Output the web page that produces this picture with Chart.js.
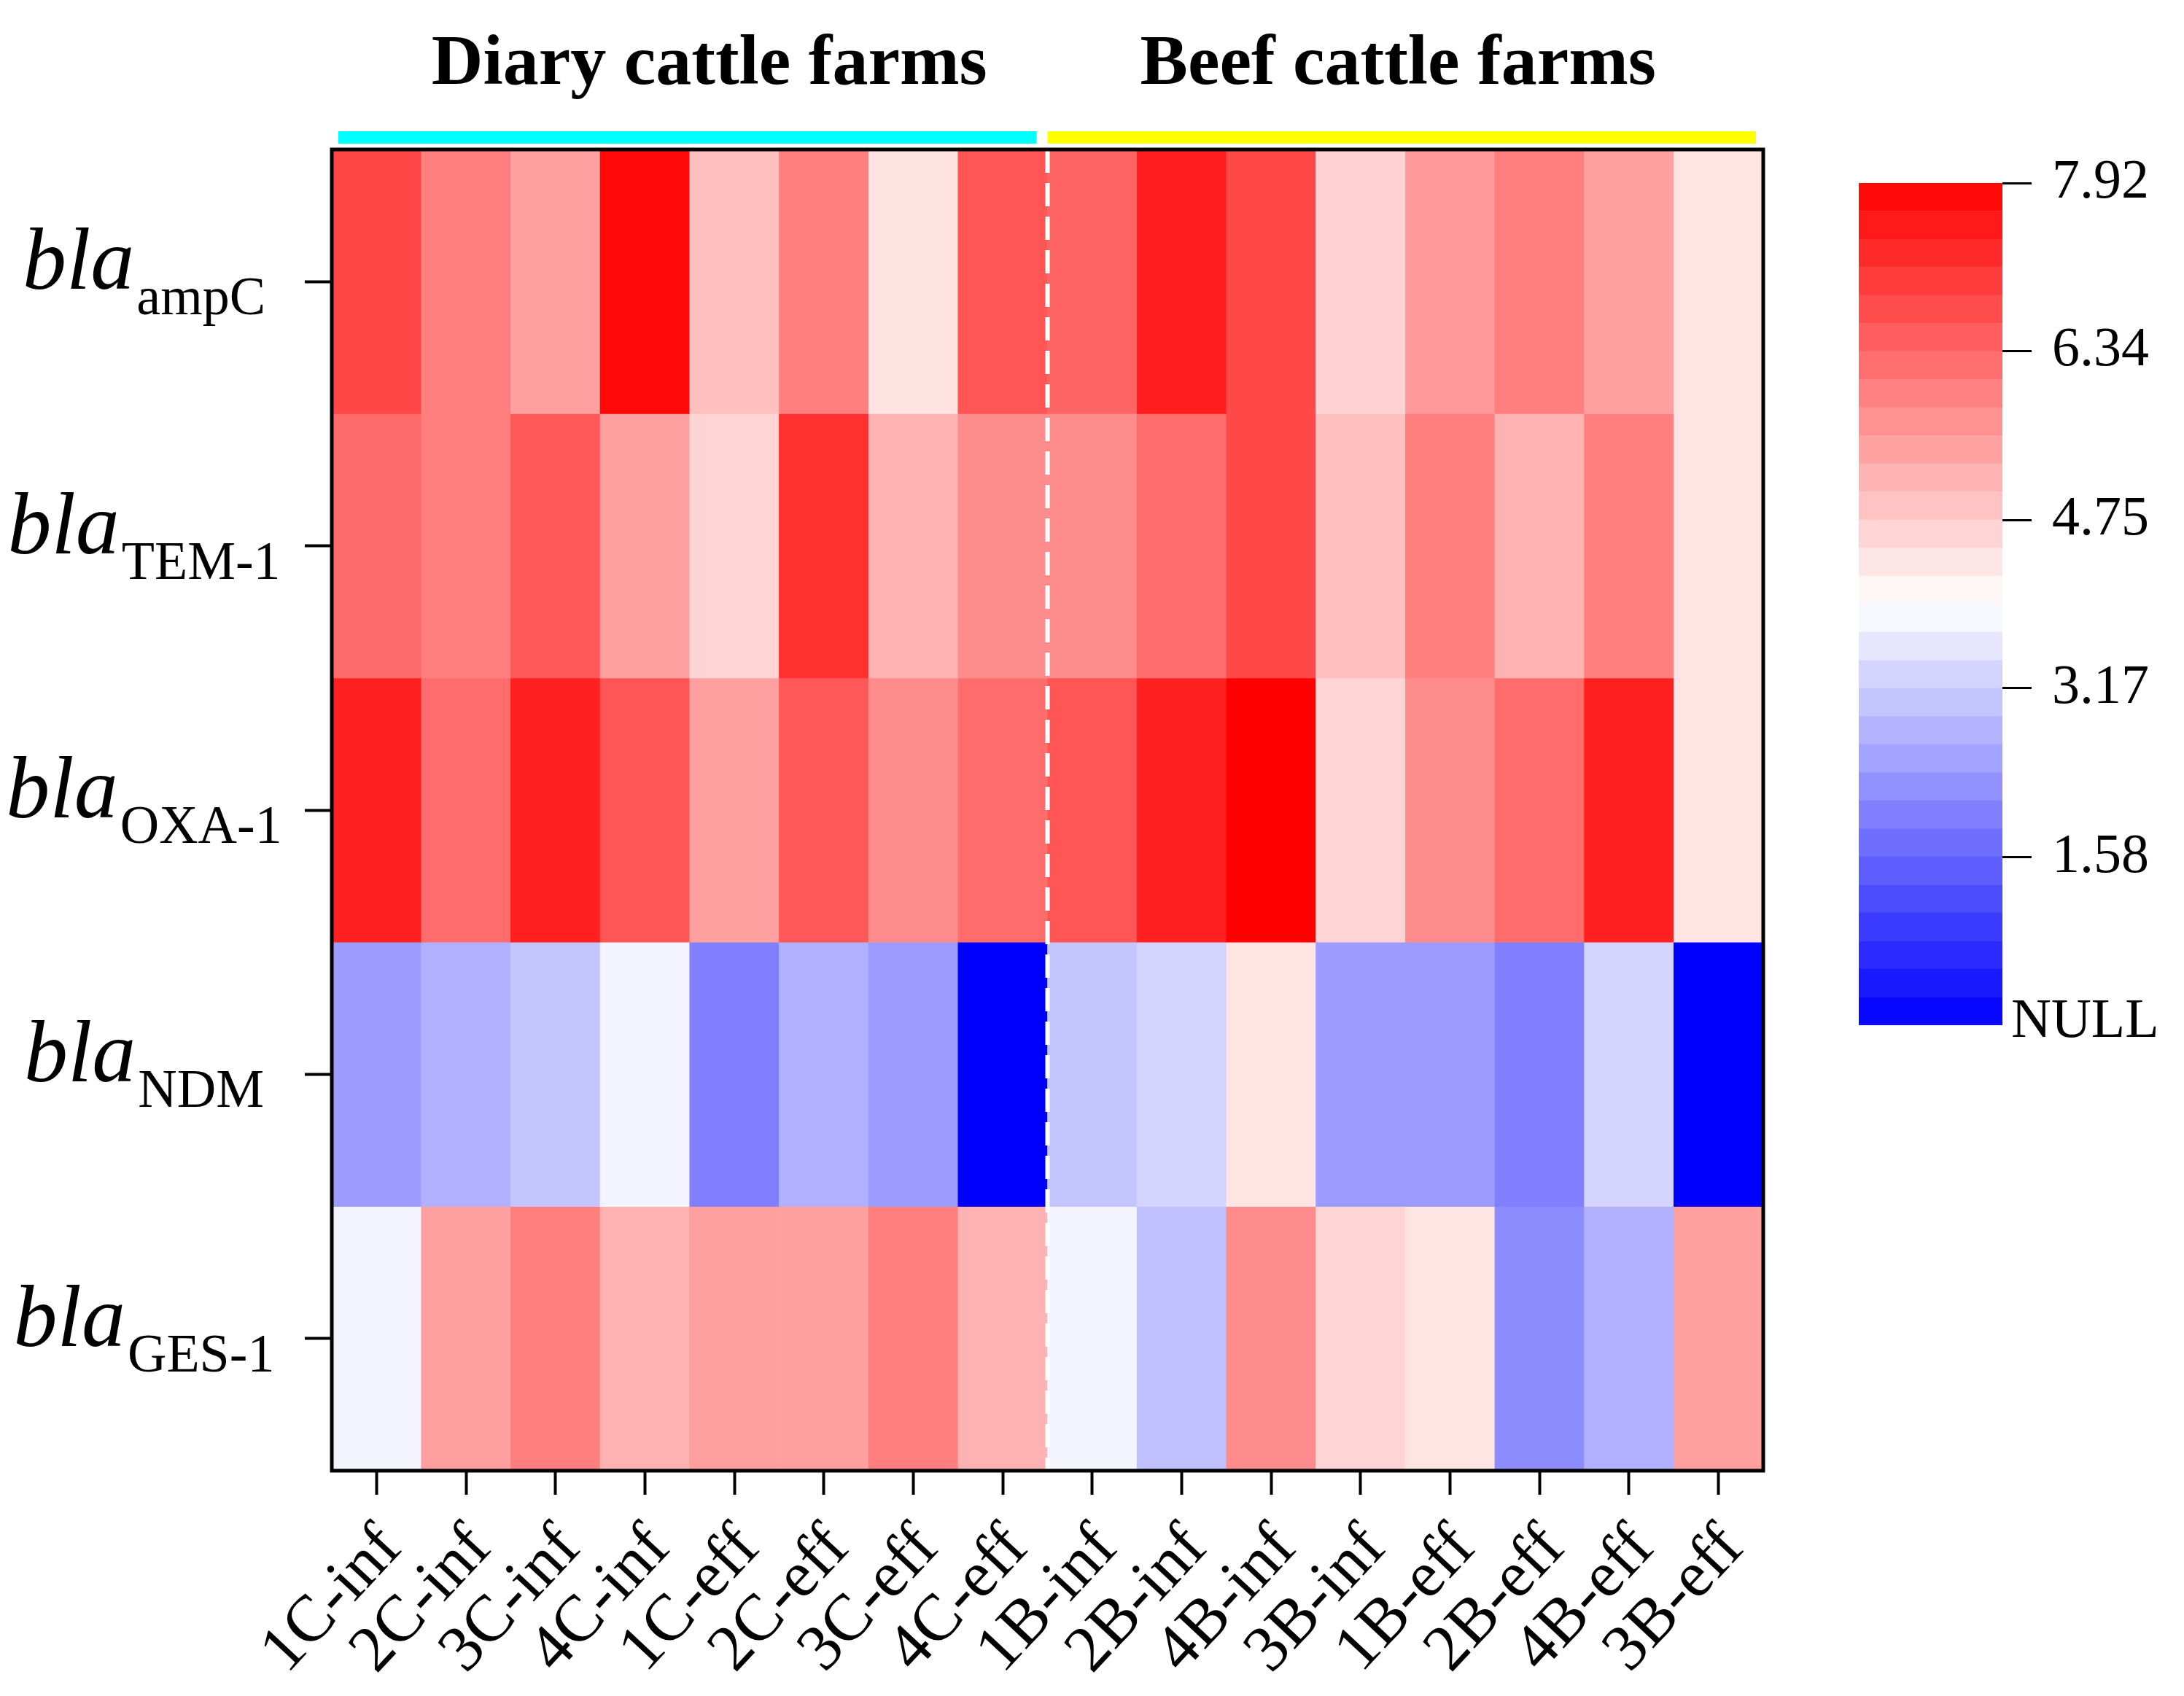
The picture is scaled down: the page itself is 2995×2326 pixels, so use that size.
<!DOCTYPE html>
<html>
<head>
<meta charset="utf-8">
<script src="https://cdn.jsdelivr.net/npm/chart.js@4.4.1/dist/chart.umd.min.js"></script>
<style>
  html, body { margin: 0; padding: 0; background: #fff; }
  #wrap { position: relative; width: 2995px; height: 2326px; }
  #wrap canvas { position: absolute; left: 0; top: 0; }
</style>
</head>
<body>
<div id="wrap">
  <canvas id="heat" width="2995" height="2326"></canvas>
  <canvas id="scale" width="2995" height="2326"></canvas>
</div>
<script>
const samples = ['1C-inf', '2C-inf', '3C-inf', '4C-inf', '1C-eff', '2C-eff', '3C-eff', '4C-eff',
                 '1B-inf', '2B-inf', '4B-inf', '3B-inf', '1B-eff', '2B-eff', '4B-eff', '3B-eff'];
const genes = ['ampC', 'TEM-1', 'OXA-1', 'NDM', 'GES-1'];
const groupNames = ['Diary cattle farms', 'Beef cattle farms'];
const groupSizes = [8, 8];

// log copies per sample (null = not detected)
const ampC = [6.83, 5.94, 5.43, 7.80, 4.94, 5.94, 4.41, 6.60, 6.37, 7.45, 6.80, 4.66, 5.53, 5.94, 5.43, 4.38];
const tem1 = [6.27, 5.94, 6.55, 5.43, 4.63, 7.17, 5.16, 5.75, 5.75, 6.24, 6.80, 4.94, 5.94, 5.16, 5.94, 4.38];
const oxa1 = [7.42, 6.24, 7.42, 6.60, 5.43, 6.55, 5.75, 6.24, 6.60, 7.42, 7.92, 4.63, 5.75, 6.24, 7.42, 4.38];
const ndm  = [2.42, 2.73, 3.05, 3.79, 1.98, 2.73, 2.42, null, 3.05, 3.29, 4.38, 2.42, 2.42, 1.98, 3.29, null];
const ges1 = [3.79, 5.43, 5.94, 5.16, 5.43, 5.43, 5.94, 5.16, 3.79, 2.98, 5.75, 4.63, 4.38, 2.18, 2.73, 5.43];

const cbMax = 7.92;
const cbSteps = 30;
const cbTicks = [1.58, 3.17, 4.75, 6.34, 7.92];
const nullLabel = 'NULL';

const groupColors = ['#00ffff', '#ffff00'];
const SERIF = '"Liberation Serif", "Times New Roman", serif';

function ramp(v) {
    if (v === null) return 'rgb(0,0,255)';
    const mid = cbMax / 2;
    if (v >= mid) {
        const s = Math.min(1, (v - mid) / mid);
        const g = Math.round(255 * (1 - s));
        return `rgb(255,${g},${g})`;
    }
    const s = Math.min(1, (mid - v) / mid);
    const r = Math.round(255 * (1 - s));
    return `rgb(${r},${r},255)`;
}

const rows = [ampC, tem1, oxa1, ndm, ges1];

const decor = {
    id: 'decor',
    afterDatasetsDraw(chart) {
        const { ctx, chartArea: a, scales: { x, y } } = chart;
        const sep = (x.getPixelForValue(groupSizes[0] - 1) + x.getPixelForValue(groupSizes[0])) / 2;
        ctx.save();
        // white dashed separator between the two farm groups
        ctx.strokeStyle = '#fff';
        ctx.lineWidth = 6;
        ctx.setLineDash([32, 14]);
        ctx.beginPath();
        ctx.moveTo(sep, a.top);
        ctx.lineTo(sep, a.bottom);
        ctx.stroke();
        ctx.setLineDash([]);
        // frame
        ctx.strokeStyle = '#000';
        ctx.lineWidth = 5;
        ctx.strokeRect(a.left, a.top, a.width, a.height);

        // group bars and titles
        const spans = [[a.left + 9, sep - 15], [sep, a.right - 10]];
        ctx.font = `bold 98px ${SERIF}`;
        ctx.textAlign = 'center';
        ctx.textBaseline = 'alphabetic';
        spans.forEach((sp, i) => {
            ctx.fillStyle = groupColors[i];
            ctx.fillRect(sp[0], a.top - 25, sp[1] - sp[0], 17);
            ctx.fillStyle = '#000';
            ctx.fillText(groupNames[i], (sp[0] + sp[1]) / 2 + (i === 0 ? 30 : -5), a.top - 90);
        });

        // gene labels: italic "bla" with subscript
        genes.forEach((g, i) => {
            const yc = y.getPixelForValue(i + 0.5);
            ctx.font = `italic 120px ${SERIF}`;
            const wb = ctx.measureText('bla').width;
            ctx.font = `74px ${SERIF}`;
            const ws = ctx.measureText(g).width;
            const x0 = 196 - (wb + ws) / 2;
            ctx.textAlign = 'left';
            ctx.font = `italic 120px ${SERIF}`;
            ctx.fillText('bla', x0, yc + 10);
            ctx.font = `74px ${SERIF}`;
            ctx.fillText(g, x0 + wb + 3, yc + 45);
        });
        ctx.restore();
    }
};

new Chart(document.getElementById('heat'), {
    type: 'bar',
    data: {
        labels: samples,
        datasets: rows.map((vals, i) => ({
            label: genes[i],
            data: vals.map(() => 1),
            backgroundColor: vals.map(ramp),
            borderWidth: 0,
            barPercentage: 1,
            categoryPercentage: 1
        }))
    },
    options: {
        responsive: false,
        animation: false,
        layout: { padding: { left: 0, top: 205, right: 577, bottom: 0 } },
        plugins: { legend: { display: false }, tooltip: { enabled: false } },
        scales: {
            x: {
                stacked: true,
                border: { display: false },
                grid: { offset: false, drawOnChartArea: false, drawTicks: true, tickLength: 33, tickColor: '#000', tickWidth: 4 },
                ticks: { color: '#000', font: { family: SERIF, size: 90 }, minRotation: 47, maxRotation: 47,
                         padding: 22, labelOffset: 20, autoSkip: false },
                afterFit(s) { s.height = 309; }
            },
            y: {
                stacked: true,
                reverse: true,
                min: 0,
                max: genes.length,
                border: { display: false },
                grid: { drawOnChartArea: false, drawTicks: true, tickLength: 37, tickColor: '#000', tickWidth: 4 },
                afterBuildTicks(s) { s.ticks = genes.map((g, i) => ({ value: i + 0.5 })); },
                ticks: { callback: () => '', padding: 0 },
                afterFit(s) { s.width = 455; }
            }
        }
    },
    plugins: [decor]
});

const nullText = {
    id: 'nullText',
    afterDraw(chart) {
        const { ctx, chartArea: a } = chart;
        ctx.save();
        ctx.font = `76px ${SERIF}`;
        ctx.fillStyle = '#000';
        ctx.textAlign = 'left';
        ctx.textBaseline = 'middle';
        ctx.fillText(nullLabel, a.right + 12, a.bottom - 4);
        ctx.restore();
    }
};

new Chart(document.getElementById('scale'), {
    type: 'bar',
    data: {
        labels: [''],
        datasets: Array.from({ length: cbSteps }, (_, i) => ({
            data: [cbMax / cbSteps],
            backgroundColor: ramp((i + 0.5) * cbMax / cbSteps),
            borderWidth: 0,
            barPercentage: 1,
            categoryPercentage: 1
        }))
    },
    options: {
        responsive: false,
        animation: false,
        layout: { padding: { left: 2549, top: 251, right: 0, bottom: 920 } },
        plugins: { legend: { display: false }, tooltip: { enabled: false } },
        scales: {
            x: { display: false, stacked: true },
            y: {
                position: 'right',
                stacked: true,
                min: 0,
                max: cbMax,
                border: { display: false },
                grid: { drawOnChartArea: false, drawTicks: true, tickLength: 40, tickColor: '#000', tickWidth: 3 },
                afterBuildTicks(s) { s.ticks = cbTicks.map(v => ({ value: v })); },
                ticks: { color: '#000', font: { family: SERIF, size: 76 }, padding: 28, callback: v => Number(v).toFixed(2) },
                afterFit(s) { s.width = 249; }
            }
        }
    },
    plugins: [nullText]
});
</script>
</body>
</html>
